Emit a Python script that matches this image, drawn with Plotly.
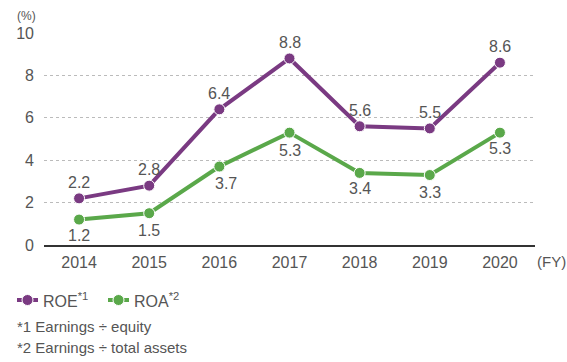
import plotly.graph_objects as go

years = ["2014", "2015", "2016", "2017", "2018", "2019", "2020"]
roe = [2.2, 2.8, 6.4, 8.8, 5.6, 5.5, 8.6]
roa = [1.2, 1.5, 3.7, 5.3, 3.4, 3.3, 5.3]
y_ticks = [0, 2, 4, 6, 8, 10]

# pixel offsets of each value label from its point: (xshift, yshift)
roe_label_shift = [(0, 16)] * 7
roa_label_shift = [(0, -16), (0, -17), (7, -17), (0, -18), (0, -16), (0, -17), (0, -16)]

PURPLE = "#7a3a82"
GREEN = "#5aa84a"
TEXT = "#555555"
FONT = "Liberation Sans, Arial, sans-serif"

# plot area in pixels
W, H = 567, 362
L, R, T, B = 44, 32, 33, 117
PW, PH = W - L - R, H - T - B


def px(xp):
    return (xp - L) / PW


def py(yp):
    return (H - B - yp) / PH


fig = go.Figure()
for name, vals, color in [("ROE", roe, PURPLE), ("ROA", roa, GREEN)]:
    fig.add_trace(go.Scatter(
        x=years, y=vals, mode="lines+markers", name=name, showlegend=False,
        line=dict(color=color, width=4),
        marker=dict(color=color, size=11, line=dict(color="white", width=1)),
    ))

ann = []
for vals, shifts in [(roe, roe_label_shift), (roa, roa_label_shift)]:
    for i, (v, (dx, dy)) in enumerate(zip(vals, shifts)):
        ann.append(dict(x=i, y=v, xref="x", yref="y", text=f"{v:.1f}", showarrow=False,
                        xshift=dx, yshift=dy, font=dict(size=16, color=TEXT, family=FONT)))

ann.append(dict(xref="paper", yref="paper", x=px(26), y=py(16), text="(%)",
                showarrow=False, xanchor="center", yanchor="middle",
                font=dict(size=12, color=TEXT, family=FONT)))
ann.append(dict(xref="paper", yref="paper", x=px(535), y=py(261), text="(FY)",
                showarrow=False, xanchor="left", yanchor="middle",
                font=dict(size=15, color=TEXT, family=FONT)))

# legend drawn by hand: short line with a dot, followed by the series name
shapes = []
legend_items = [("ROE<sup>*1</sup>", PURPLE, 17), ("ROA<sup>*2</sup>", GREEN, 108)]
LY = 300
for label, color, x0 in legend_items:
    shapes.append(dict(type="line", xref="paper", yref="paper",
                       x0=px(x0), x1=px(x0 + 21), y0=py(LY), y1=py(LY),
                       line=dict(color=color, width=4)))
    shapes.append(dict(type="circle", xref="paper", yref="paper",
                       x0=px(x0 + 10.5 - 5.5), x1=px(x0 + 10.5 + 5.5),
                       y0=py(LY + 5.5), y1=py(LY - 5.5),
                       fillcolor=color, line=dict(color="white", width=1)))
    ann.append(dict(xref="paper", yref="paper", x=px(x0 + 24), y=py(LY), text=label,
                    showarrow=False, xanchor="left", yanchor="middle",
                    font=dict(size=16, color=TEXT, family=FONT)))

for text, yy in [("*1 Earnings ÷ equity", 326), ("*2 Earnings ÷ total assets", 347)]:
    ann.append(dict(xref="paper", yref="paper", x=px(15), y=py(yy), text=text,
                    showarrow=False, xanchor="left", yanchor="middle",
                    font=dict(size=15, color=TEXT, family=FONT)))

fig.update_layout(
    width=W, height=H,
    margin=dict(l=L, r=R, t=T, b=B),
    paper_bgcolor="white", plot_bgcolor="white",
    font=dict(family=FONT, color=TEXT, size=16),
    annotations=ann,
    shapes=shapes,
    showlegend=False,
    xaxis=dict(type="category", range=[-0.5, 6.5], showgrid=False, showline=True,
               linecolor="#333333", linewidth=1.5, ticks="", tickfont=dict(size=16, color=TEXT),
               zeroline=False, ticklabelstandoff=2),
    yaxis=dict(range=[0, 10], tickvals=y_ticks, showgrid=True, gridcolor="#bbbbbb",
               griddash="dot", gridwidth=1, zeroline=False, showline=False, ticks="",
               tickfont=dict(size=16, color=TEXT), ticklabelstandoff=9),
)

fig.write_html("out.html")
